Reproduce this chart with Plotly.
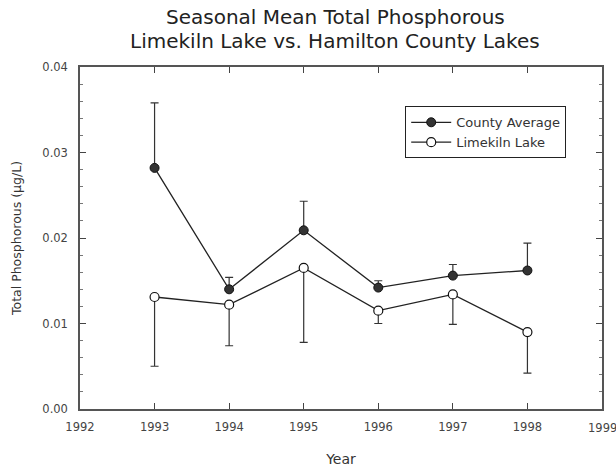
import plotly.graph_objects as go

years = [1993, 1994, 1995, 1996, 1997, 1998]
county_avg = [0.0282, 0.0140, 0.0209, 0.0142, 0.0156, 0.0162]
county_err_up = [0.0076, 0.0014, 0.0034, 0.0008, 0.0013, 0.0032]
limekiln = [0.0131, 0.0122, 0.0165, 0.0115, 0.0134, 0.0090]
limekiln_err_down = [0.0081, 0.0048, 0.0087, 0.0015, 0.0035, 0.0048]
x_ticks = [1992, 1993, 1994, 1995, 1996, 1997, 1998, 1999]
y_ticks = [0.00, 0.01, 0.02, 0.03, 0.04]
title_lines = ["Seasonal Mean Total Phosphorous", "Limekiln Lake vs. Hamilton County Lakes"]

FONT = "DejaVu Sans, Liberation Sans, Arial, sans-serif"

fig = go.Figure()
fig.add_trace(go.Scatter(
    x=years, y=county_avg, name="County Average", mode="lines+markers",
    line=dict(color="#222", width=1.3),
    marker=dict(symbol="circle", size=9, color="#333", line=dict(color="#111", width=1)),
    error_y=dict(type="data", symmetric=False, array=county_err_up,
                 arrayminus=[0]*len(years), color="#333", thickness=1.2, width=4),
))
fig.add_trace(go.Scatter(
    x=years, y=limekiln, name="Limekiln Lake", mode="lines+markers",
    line=dict(color="#222", width=1.3),
    marker=dict(symbol="circle", size=9, color="white", line=dict(color="#111", width=1.2)),
    error_y=dict(type="data", symmetric=False, array=[0]*len(years),
                 arrayminus=limekiln_err_down, color="#333", thickness=1.2, width=4),
))

for i, t in enumerate(title_lines):
    fig.add_annotation(text=t, xref="paper", yref="paper", x=0.489, y=1.0,
                       xanchor="center", yanchor="middle", yshift=67 - [17.0, 40.8][i],
                       showarrow=False, font=dict(family=FONT, size=20, color="#222"))

# last tick label sits at the page edge (partly cut, as in the reference)
x_ticktext = [str(v) for v in x_ticks]
last_label = x_ticktext[-1]
x_ticktext[-1] = ""
fig.add_annotation(text=last_label, xref="x", yref="paper", x=x_ticks[-1], y=0,
                   xanchor="center", yanchor="top", yshift=-10, showarrow=False,
                   font=dict(family=FONT, size=11.5, color="#444"))

fig.update_layout(
    width=616, height=469,
    margin=dict(l=80, r=14, t=67, b=60),
    paper_bgcolor="white", plot_bgcolor="white",
    font=dict(family=FONT, color="#222"),
    showlegend=True,
    legend=dict(x=0.623, y=0.885, xanchor="left", yanchor="top",
                bordercolor="#222", borderwidth=1, bgcolor="white",
                font=dict(size=13, color="#333"), tracegroupgap=0,
                itemwidth=40),
    xaxis=dict(range=[1992, 1999], tickvals=x_ticks, ticktext=x_ticktext,
               ticks="inside", ticklen=6, tickcolor="#444", showline=True, linecolor="#555",
               linewidth=1.5, mirror="ticks", showgrid=False, zeroline=False, automargin=False,
               tickfont=dict(size=11.5, color="#444"), ticklabelstandoff=6,
               title=dict(text="Year", font=dict(size=14, color="#333"), standoff=22)),
    yaxis=dict(range=[0, 0.04], tickvals=y_ticks, ticktext=["0.00", "0.01", "0.02", "0.03", "0.04"],
               ticks="inside", ticklen=6, tickcolor="#444", showline=True, linecolor="#555",
               linewidth=1.5, mirror="ticks", showgrid=False, zeroline=False, automargin=False,
               minor=dict(dtick=0.002, ticks="inside", ticklen=3, tickcolor="#777"),
               tickfont=dict(size=11.5, color="#444"), ticklabelstandoff=8,
               title=dict(text="Total Phosphorous (µg/L)", font=dict(size=12.5, color="#333"), standoff=18)),
)

fig.write_html("out.html", config={"displayModeBar": False},
               post_script="document.body.style.margin='0';")
